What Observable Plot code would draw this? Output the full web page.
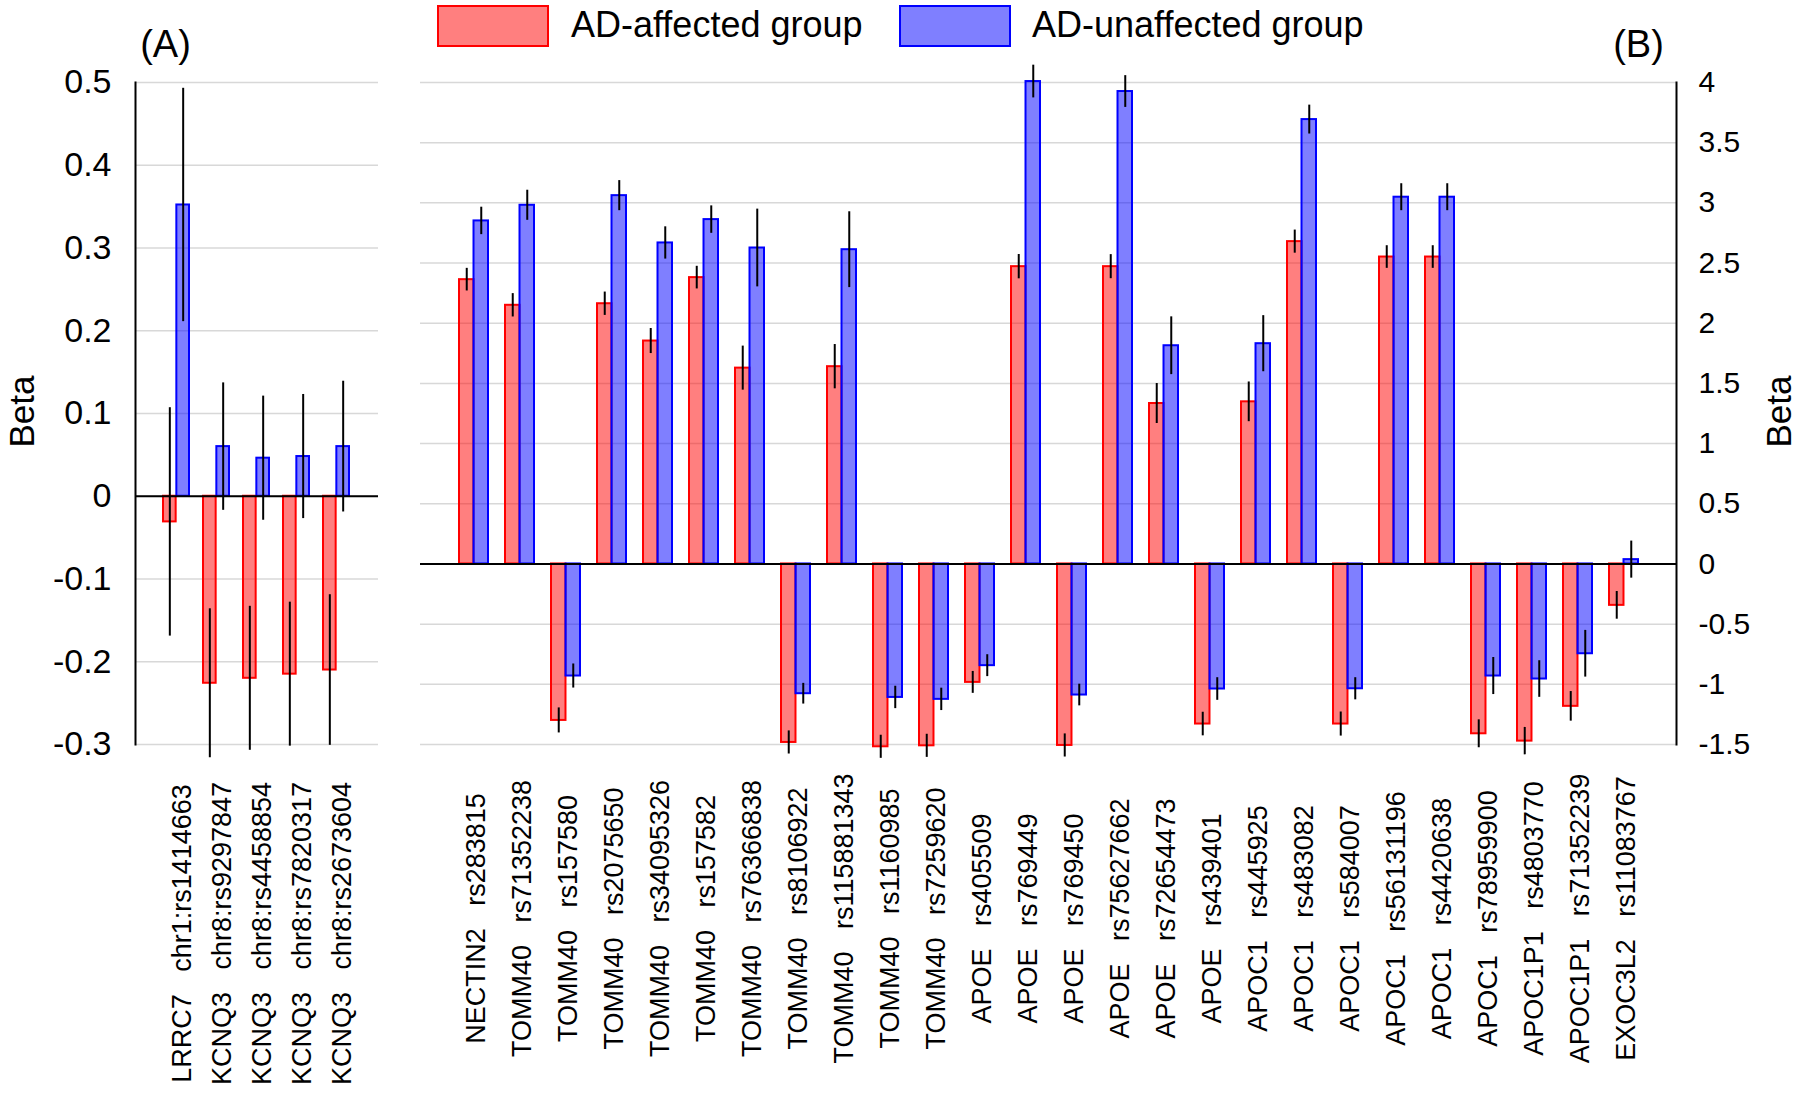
<!DOCTYPE html>
<html>
<head>
<meta charset="utf-8">
<script src="https://cdn.jsdelivr.net/npm/d3@7"></script>
<script src="https://cdn.jsdelivr.net/npm/@observablehq/plot@0.6"></script>
<style>
html, body { margin: 0; padding: 0; background: #fff; }
#root { position: relative; width: 1800px; height: 1093px; overflow: hidden;
        font-family: "Liberation Sans", Arial, Helvetica, sans-serif; color: #000; }
.panel { position: absolute; top: 0; }
.lbox { position: absolute; box-sizing: border-box; border: 2px solid; }
.ltext { position: absolute; font-size: 36px; line-height: 1; white-space: nowrap; }
</style>
</head>
<body>
<div id="root"></div>
<script>
// ---------- Panel A data ----------
const genesA = ["LRRC7", "KCNQ3", "KCNQ3", "KCNQ3", "KCNQ3"];
const snpsA = ["chr1:rs1414663", "chr8:rs9297847", "chr8:rs4458854", "chr8:rs7820317", "chr8:rs2673604"];
const affA = [-0.031, -0.226, -0.220, -0.215, -0.210];
const affErrA = [0.138, 0.090, 0.087, 0.087, 0.091];
const unaffA = [0.352, 0.060, 0.046, 0.048, 0.060];
const unaffErrA = [0.141, 0.077, 0.075, 0.075, 0.079];
const ticksA = [0.5, 0.4, 0.3, 0.2, 0.1, 0, -0.1, -0.2, -0.3];
const tickLabelsA = ["0.5", "0.4", "0.3", "0.2", "0.1", "0", "-0.1", "-0.2", "-0.3"];

// ---------- Panel B data ----------
const genesB = ["NECTIN2", "TOMM40", "TOMM40", "TOMM40", "TOMM40", "TOMM40", "TOMM40", "TOMM40", "TOMM40", "TOMM40", "TOMM40",
  "APOE", "APOE", "APOE", "APOE", "APOE", "APOE",
  "APOC1", "APOC1", "APOC1", "APOC1", "APOC1", "APOC1", "APOC1P1", "APOC1P1", "EXOC3L2"];
const snpsB = ["rs283815", "rs71352238", "rs157580", "rs2075650", "rs34095326", "rs157582", "rs76366838", "rs8106922", "rs115881343", "rs1160985", "rs7259620",
  "rs405509", "rs769449", "rs769450", "rs75627662", "rs72654473", "rs439401",
  "rs445925", "rs483082", "rs584007", "rs56131196", "rs4420638", "rs78959900", "rs4803770", "rs71352239", "rs11083767"];
const affB = [2.362, 2.149, -1.300, 2.162, 1.852, 2.379, 1.627, -1.483, 1.639, -1.519, -1.511,
  -0.984, 2.470, -1.508, 2.470, 1.333, -1.330,
  1.347, 2.678, -1.330, 2.550, 2.550, -1.411, -1.472, -1.183, -0.344];
const affErrB = [0.094, 0.097, 0.104, 0.097, 0.104, 0.094, 0.183, 0.096, 0.184, 0.096, 0.096,
  0.091, 0.101, 0.096, 0.100, 0.166, 0.098,
  0.165, 0.096, 0.100, 0.094, 0.094, 0.116, 0.114, 0.123, 0.115];
const unaffB = [2.850, 2.980, -0.931, 3.060, 2.667, 2.861, 2.625, -1.078, 2.611, -1.109, -1.125,
  -0.845, 4.008, -1.089, 3.925, 1.813, -1.039,
  1.830, 3.692, -1.037, 3.047, 3.047, -0.931, -0.956, -0.746, 0.036];
const unaffErrB = [0.114, 0.125, 0.100, 0.125, 0.134, 0.114, 0.323, 0.086, 0.315, 0.093, 0.093,
  0.091, 0.136, 0.090, 0.132, 0.240, 0.094,
  0.233, 0.120, 0.092, 0.112, 0.112, 0.154, 0.152, 0.194, 0.154];
const ticksB = [4, 3.5, 3, 2.5, 2, 1.5, 1, 0.5, 0, -0.5, -1, -1.5];
const tickLabelsB = ["4", "3.5", "3", "2.5", "2", "1.5", "1", "0.5", "0", "-0.5", "-1", "-1.5"];

// ---------- Legend ----------
const groupNames = ["AD-affected group", "AD-unaffected group"];
const groupColors = ["red", "blue"];

const SP = "\u00a0\u00a0\u00a0";
const rowsA = genesA.map((g, i) => ({label: g + SP + snpsA[i], aff: affA[i], affErr: affErrA[i], unaff: unaffA[i], unaffErr: unaffErrA[i]}));
const rowsB = genesB.map((g, i) => ({label: g + SP + snpsB[i], aff: affB[i], affErr: affErrB[i], unaff: unaffB[i], unaffErr: unaffErrB[i]}));

const FONT = "'Liberation Sans', Arial, Helvetica, sans-serif";
const H = 1093;

function bandwidth(width, n, pi, po) {
  const step = width / (n - pi + 2 * po);
  return step * (1 - pi);
}

function panel({rows, width, ml, mr, domain, pi, po, ticks, tickLabels, anchor, tickFont, tickPad, labelDx, labelCenterY, betaDx, tag, tagDx}) {
  const mt = 82, mb = H - 744;
  const bw = bandwidth(width - ml - mr, rows.length, pi, po);
  const gridColor = "#d8d8d8";
  return Plot.plot({
    width, height: H,
    marginLeft: ml, marginRight: mr, marginTop: mt, marginBottom: mb,
    style: {fontFamily: FONT, background: "transparent", overflow: "visible"},
    x: {type: "band", domain: rows.map(d => d.label), paddingInner: pi, paddingOuter: po, axis: null},
    y: {domain},
    marks: [
      Plot.gridY(ticks, {stroke: gridColor, strokeOpacity: 1, strokeWidth: 1.5}),
      Plot.barY(rows, {x: "label", y: "aff", fill: groupColors[0], fillOpacity: 0.5, stroke: groupColors[0], strokeWidth: 2, insetRight: bw / 2}),
      Plot.barY(rows, {x: "label", y: "unaff", fill: groupColors[1], fillOpacity: 0.5, stroke: groupColors[1], strokeWidth: 2, insetLeft: bw / 2}),
      Plot.ruleY([0], {stroke: "black", strokeWidth: 2}),
      Plot.ruleX(rows, {x: "label", y1: d => d.aff - d.affErr, y2: d => d.aff + d.affErr, stroke: "black", strokeWidth: 2, dx: -bw / 4}),
      Plot.ruleX(rows, {x: "label", y1: d => d.unaff - d.unaffErr, y2: d => d.unaff + d.unaffErr, stroke: "black", strokeWidth: 2, dx: bw / 4}),
      Plot.frame({anchor, stroke: "black", strokeWidth: 2}),
      Plot.axisY(ticks, {anchor, tickSize: 0, tickPadding: tickPad, fontSize: tickFont, label: null,
        tickFormat: d => tickLabels[ticks.indexOf(d)]}),
      Plot.text(rows, {x: "label", text: "label", frameAnchor: "bottom", rotate: -90, textAnchor: "middle", lineAnchor: "middle",
        dx: labelDx, dy: labelCenterY - 744, fontSize: 27}),
      Plot.text(["Beta"], {text: d => d, frameAnchor: anchor, rotate: -90, textAnchor: "middle", lineAnchor: "middle",
        dx: betaDx, dy: -2, fontSize: 35}),
      Plot.text([tag], {text: d => d, frameAnchor: "top-" + anchor, textAnchor: "middle", lineAnchor: "middle",
        dx: tagDx, dy: -38, fontSize: 38})
    ]
  });
}

const root = document.getElementById("root");

const plotA = panel({rows: rowsA, width: 400, ml: 135, mr: 22, domain: [-0.3, 0.5], pi: 0.344, po: 0.66,
  ticks: ticksA, tickLabels: tickLabelsA, anchor: "left", tickFont: 34, tickPad: 24,
  labelDx: 6, labelCenterY: 933, betaDx: -113, tag: "(A)", tagDx: 30});
plotA.classList.add("panel");
plotA.style.left = "0px";
root.appendChild(plotA);

const plotB = panel({rows: rowsB, width: 1400, ml: 20, mr: 124, domain: [-1.5, 4], pi: 0.376, po: 0.69,
  ticks: ticksB, tickLabels: tickLabelsB, anchor: "right", tickFont: 30, tickPad: 22,
  labelDx: 2, labelCenterY: 918, betaDx: 103, tag: "(B)", tagDx: -38});
plotB.classList.add("panel");
plotB.style.left = "400px";
root.appendChild(plotB);

// Legend (HTML, above the panels)
const legendPos = [{box: 437, text: 571}, {box: 899, text: 1032}];
groupNames.forEach((name, i) => {
  const box = document.createElement("div");
  box.className = "lbox";
  Object.assign(box.style, {left: legendPos[i].box + "px", top: "5px", width: "112px", height: "42px",
    borderColor: groupColors[i], background: i === 0 ? "rgba(255,0,0,0.5)" : "rgba(0,0,255,0.5)"});
  root.appendChild(box);
  const t = document.createElement("div");
  t.className = "ltext";
  t.textContent = name;
  Object.assign(t.style, {left: legendPos[i].text + "px", top: "7px"});
  root.appendChild(t);
});
</script>
</body>
</html>
